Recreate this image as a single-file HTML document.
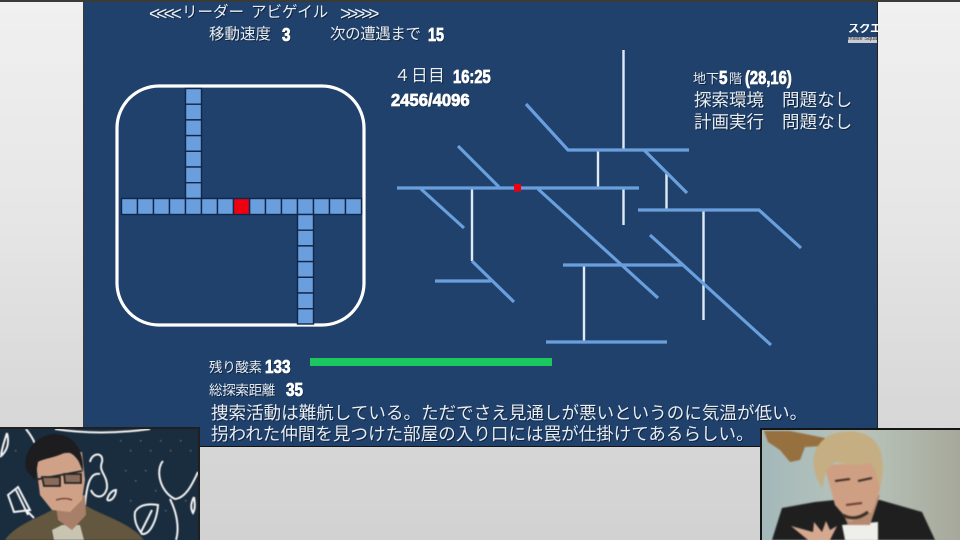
<!DOCTYPE html>
<html lang="ja"><head><meta charset="utf-8"><style>
html,body{margin:0;padding:0;width:960px;height:540px;overflow:hidden;background:#dcdcdc}
#bg{position:absolute;left:0;top:0;width:960px;height:540px;background:linear-gradient(180deg,#f0f0f0 0%,#e6e6e6 40%,#d8d8d8 75%,#d2d2d2 100%)}
#panel{position:absolute;left:83px;top:2px;width:793px;height:444px;background:#1f416b;border-left:1px solid #3a3a3a;border-right:1px solid #222;border-bottom:1px solid #111}
#topbar{position:absolute;left:0;top:0;width:960px;height:2px;background:#3a3a36}
.t{position:absolute;white-space:nowrap;color:#e8eef5;font-family:"Liberation Sans","Noto Sans CJK JP",sans-serif;font-weight:400;text-shadow:1px 1px 0 #10233c;line-height:1}
.n{position:absolute;white-space:nowrap;color:#fff;font-family:"Liberation Sans",sans-serif;font-weight:700;line-height:1;transform-origin:left top;text-shadow:1px 1px 0 #10233c;-webkit-text-stroke:.8px #fff}
svg{position:absolute;left:0;top:0}
</style></head><body>
<div id="bg"></div><div id="panel"></div><div id="topbar"></div>
<svg width="960" height="540" viewBox="0 0 960 540">
<rect x="117" y="86" width="247" height="239" rx="42" fill="none" stroke="#fff" stroke-width="3.2"/>
<g fill="#6a9fde" stroke="#10264a" stroke-width="1.400">
<rect x="185.500" y="88.500" width="16" height="15.700"/><rect x="185.500" y="104.200" width="16" height="15.700"/><rect x="185.500" y="119.900" width="16" height="15.700"/><rect x="185.500" y="135.600" width="16" height="15.700"/><rect x="185.500" y="151.300" width="16" height="15.700"/><rect x="185.500" y="167" width="16" height="15.700"/><rect x="185.500" y="182.700" width="16" height="15.800"/>
<rect x="121.500" y="198.500" width="16" height="16"/><rect x="137.500" y="198.500" width="16" height="16"/><rect x="153.500" y="198.500" width="16" height="16"/><rect x="169.500" y="198.500" width="16" height="16"/><rect x="185.500" y="198.500" width="16" height="16"/><rect x="201.500" y="198.500" width="16" height="16"/><rect x="217.500" y="198.500" width="16" height="16"/>
<rect x="249.500" y="198.500" width="16" height="16"/><rect x="265.500" y="198.500" width="16" height="16"/><rect x="281.500" y="198.500" width="16" height="16"/><rect x="297.500" y="198.500" width="16" height="16"/><rect x="313.500" y="198.500" width="16" height="16"/><rect x="329.500" y="198.500" width="16" height="16"/><rect x="345.500" y="198.500" width="16" height="16"/>
<rect x="297.500" y="214.500" width="16" height="15.700"/><rect x="297.500" y="230.200" width="16" height="15.700"/><rect x="297.500" y="245.900" width="16" height="15.700"/><rect x="297.500" y="261.600" width="16" height="15.700"/><rect x="297.500" y="277.300" width="16" height="15.700"/><rect x="297.500" y="293" width="16" height="15.700"/><rect x="297.500" y="308.700" width="16" height="15.300"/>
</g>
<rect x="233.500" y="198.500" width="16" height="16" fill="#ee0010" stroke="#10264a" stroke-width="1.400"/>
<g stroke="#dfeaf6" stroke-width="2.400" fill="none">
<path d="M623.500 50V150M472 189V261M598 151V187M623.500 189V225M666.500 173V209M703.500 211V320M584 266V341"/>
</g>
<g stroke="#6a9fde" stroke-width="3.200" fill="none">
<path d="M397 188H639M458 146L499 187M421 189L464 228M472 261L514 302M435 281H491M538 189L658 298M526 104L568 150H689M644 150L687 193M638 210H759L801 248M650 235L771 345M563 265H683M546 342H667"/>
</g>
<rect x="514" y="184" width="7" height="7.500" rx="1" fill="#ee0010"/>
<rect x="310" y="358" width="242" height="8" fill="#1cc760"/>

<!-- left webcam -->
<rect x="0" y="427" width="200" height="113" fill="#1a2d3f"/>
<g style="filter:blur(.5px)">
<g fill="#5a6874"><rect x="120" y="440" width="1.500" height="1.500"/><rect x="130" y="450" width="1.500" height="1.500"/><rect x="140" y="440" width="1.500" height="1.500"/><rect x="150" y="450" width="1.500" height="1.500"/><rect x="160" y="440" width="1.500" height="1.500"/><rect x="170" y="450" width="1.500" height="1.500"/><rect x="180" y="440" width="1.500" height="1.500"/><rect x="190" y="450" width="1.500" height="1.500"/><rect x="125" y="470" width="1.500" height="1.500"/><rect x="135" y="480" width="1.500" height="1.500"/><rect x="145" y="470" width="1.500" height="1.500"/><rect x="155" y="490" width="1.500" height="1.500"/><rect x="165" y="510" width="1.500" height="1.500"/><rect x="185" y="500" width="1.500" height="1.500"/><rect x="130" y="500" width="1.500" height="1.500"/><rect x="15" y="450" width="1.500" height="1.500"/></g>
<g stroke="#f2f2f2" stroke-width="2" fill="none">
<path d="M55 429Q100 436 150 429"/>
<path d="M26 429Q33 438 35 444"/>
<path d="M7 433Q2 448 1 455M7 433Q11 448 0 457"/>
<path d="M163 461C155 470 160 492 175 499C187 498 194 480 198 472"/>
<path d="M170 499C178 515 179 530 176 540"/>
<path d="M90 462C92 452 104 452 102 462C98 472 108 475 107 488C104 500 94 498 91 490M100 474C92 472 87 480 85 505"/>
<path d="M107 500C109 492 114 490 116 490C116 495 112 502 107 500"/>
<path d="M8 495L18 487L30 510L14 512ZM16 490L28 515M26 510L34 518"/>
<path d="M135 512C140 503 152 504 158 505C157 520 150 535 142 534C136 526 134 520 135 512ZM141 532L152 510"/>
<path d="M194 497Q196 508 193 513Q189 506 194 497"/>
</g>
<path d="M5 540C15 525 38 518 52 510L85 505C100 515 130 522 144 540Z" fill="#63573f"/>
<path d="M52 530L62 525L80 525L84 540H54Z" fill="#c9c3b2"/>
<path d="M55 500L85 495L86 515L72 530L58 520Z" fill="#a87f68"/>
<path d="M35 455L82 452L85 480L82 500L70 512L52 510L40 495Z" fill="#cfa288"/>
<path d="M35 480L26 470C22 450 38 434 55 434C72 434 84 448 83 472L79 462C75 455 70 452 66 452C55 458 45 458 38 462Z" fill="#1d1d20"/>
<path d="M34 480L82 471" stroke="#262626" stroke-width="1.800" fill="none"/>
<path d="M42 477h18v9h-16zM64 474h17v9h-16z" stroke="#262626" stroke-width="1.800" fill="#8a6a58"/>
<path d="M56 500Q65 497 72 500" stroke="#7a4a40" stroke-width="1.500" fill="none"/>
</g>
<rect x="198" y="427" width="2" height="113" fill="#202020"/><rect x="0" y="427" width="200" height="2" fill="#202020"/>

<!-- right webcam -->
<defs><linearGradient id="r" x1="0" x2="1" y1="0" y2="0"><stop offset="0" stop-color="#a4b8ba"/><stop offset=".5" stop-color="#b8c4ba"/><stop offset="1" stop-color="#a6a89a"/></linearGradient></defs>
<rect x="760" y="428" width="200" height="112" fill="#151515"/>
<rect x="762" y="430" width="198" height="110" fill="url(#r)"/>
<g style="filter:blur(.7px)">
<path d="M764 431L790 431L825 438L822 446L805 447L800 460L790 462L780 450L768 442Z" fill="#96703f"/>
<path d="M772 540L782 508L815 502L835 500L880 500L922 512L935 540Z" fill="#1f1f20"/>
<path d="M842 525L878 522L878 540H845Z" fill="#eeeeea"/>
<path d="M835 495L880 495L870 525L848 525Z" fill="#b58a70"/>
<path d="M824 465L880 462L880 490L872 512L850 522L835 505Z" fill="#cf9f84"/>
<path d="M822 488C808 465 812 445 830 435C850 428 872 430 880 450C885 465 882 480 880 488L875 470L870 463L855 465L835 462L826 470Z" fill="#c4ae82"/>
<path d="M835 481L850 479M858 481L872 478" stroke="#3a2a22" stroke-width="2"/>
<path d="M846 505L862 503" stroke="#6a3a30" stroke-width="2"/>
<path d="M843 515Q855 522 868 512" stroke="#3a2f25" stroke-width="3" fill="none"/>
<path d="M791 526L808 540H830L837 526L830 530L826 521L822 532L814 522L813 532Z" fill="#d6a890"/>
</g>
</svg>

<div class="t" style="left:149px;top:5px;font-size:19px;letter-spacing:-3.800px">&lt;&lt;&lt;&lt;</div>
<div class="t" style="left:182px;top:5px;font-size:15.500px">リーダー</div>
<div class="t" style="left:251px;top:5px;font-size:15.500px">アビゲイル</div>
<div class="t" style="left:340px;top:5px;font-size:19px;letter-spacing:-4px">&gt;&gt;&gt;&gt;&gt;</div>
<div class="t" style="left:209px;top:27px;font-size:15.500px">移動速度</div>
<div class="n" style="left:282px;top:26px;font-size:18px;transform:scaleX(.85)">3</div>
<div class="t" style="left:330px;top:27px;font-size:15.500px;letter-spacing:-.4px">次の遭遇まで</div>
<div class="n" style="left:428px;top:26px;font-size:18px;transform:scaleX(.8)">15</div>
<div class="t" style="left:394px;top:68px;font-size:16.500px;letter-spacing:.6px">４日目</div>
<div class="n" style="left:453px;top:68px;font-size:18px;transform:scaleX(.82)">16:25</div>
<div class="n" style="left:391px;top:92px;font-size:17.500px;transform:scaleX(.95)">2456/4096</div>
<div class="t" style="left:693px;top:72px;font-size:13px">地下</div>
<div class="n" style="left:719px;top:69px;font-size:18px;transform:scaleX(.85)">5</div>
<div class="t" style="left:729px;top:72px;font-size:13px">階</div>
<div class="n" style="left:745px;top:69px;font-size:18px;transform:scaleX(.82)">(28,16)</div>
<div class="t" style="left:694px;top:92px;font-size:17.500px">探索環境</div>
<div class="t" style="left:782px;top:92px;font-size:17.500px;letter-spacing:.1px">問題なし</div>
<div class="t" style="left:694px;top:114px;font-size:17.500px">計画実行</div>
<div class="t" style="left:782px;top:114px;font-size:17.500px;letter-spacing:.1px">問題なし</div>
<div class="t" style="left:848px;top:24px;font-size:11.500px;font-weight:700;color:#fff;text-shadow:none;letter-spacing:-.5px;width:30px;overflow:hidden">スクエニ</div>
<div class="t" style="left:848px;top:37px;width:29px;height:6px;background:#c8ccd4;color:#333;font-size:5.500px;text-shadow:none;overflow:hidden">Inside Square</div>
<div class="t" style="left:209px;top:361px;font-size:13.500px;letter-spacing:-.3px">残り酸素</div>
<div class="n" style="left:265px;top:358px;font-size:18px;transform:scaleX(.85)">133</div>
<div class="t" style="left:209px;top:384px;font-size:13.500px;letter-spacing:-.3px">総探索距離</div>
<div class="n" style="left:286px;top:381px;font-size:18px;transform:scaleX(.85)">35</div>
<div class="t" style="left:211px;top:405px;font-size:17.500px;letter-spacing:.05px">捜索活動は難航している。ただでさえ見通しが悪いというのに気温が低い。</div>
<div class="t" style="left:211px;top:426px;font-size:17.500px;letter-spacing:.05px">拐われた仲間を見つけた部屋の入り口には罠が仕掛けてあるらしい。</div>
</body></html>
